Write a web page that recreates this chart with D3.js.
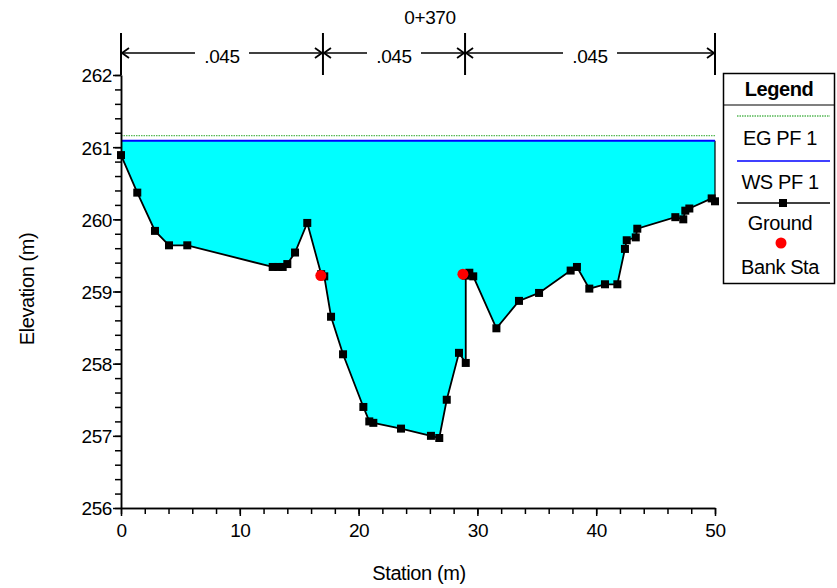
<!DOCTYPE html>
<html>
<head>
<meta charset="utf-8">
<script src="https://cdn.jsdelivr.net/npm/d3@7"></script>
<style>
  body { margin: 0; background: #fff; }
  svg text { font-family: "Liberation Sans", Arial, sans-serif; font-size: 19px; letter-spacing: -0.4px; fill: #000; }
</style>
</head>
<body>
<svg id="chart" width="837" height="588"></svg>
<script>
// cross section 0+370
const title = '0+370';
const groundSta = [0, 1.37, 2.86, 4.04, 5.58, 12.77, 13.24, 13.61, 14.0, 14.65, 15.68, 16.85, 17.11, 17.68, 18.69,
  20.40, 20.90, 21.24, 23.57, 26.09, 26.79, 27.42, 28.45, 29.02, 29.02, 29.32, 29.65, 31.6, 33.5, 35.19,
  37.85, 38.38, 39.42, 40.74, 41.78, 42.42, 42.57, 43.33, 43.46, 46.66, 47.33, 47.50, 47.84, 49.72, 50];
const groundElev = [260.89, 260.37, 259.84, 259.64, 259.64, 259.34, 259.34, 259.34, 259.38, 259.54, 259.95, 259.24, 259.21, 258.65, 258.13,
  257.40, 257.20, 257.18, 257.10, 257.00, 256.97, 257.50, 258.15, 258.01, 259.22, 259.26, 259.21, 258.49, 258.87, 258.98,
  259.29, 259.34, 259.04, 259.10, 259.10, 259.59, 259.71, 259.75, 259.87, 260.03, 260.00, 260.12, 260.15, 260.29, 260.25];
const bankSta = [16.82, 28.78];
const bankElev = [259.22, 259.24];
const wsElev = 261.09;
const egElev = 261.16;
const nSta = [0, 17.0, 28.96, 50];
const nValues = ['.045', '.045', '.045'];
const xTicks = [0, 10, 20, 30, 40, 50];
const yTicks = [256, 257, 258, 259, 260, 261, 262];
const legendItems = ['EG PF 1', 'WS PF 1', 'Ground', 'Bank Sta'];

const svg = d3.select('#chart');
const x = d3.scaleLinear().domain([0, 50]).range([121, 715]);
const y = d3.scaleLinear().domain([256, 262]).range([508, 75]);

const ground = groundSta.map((s, i) => ({ s: s, e: groundElev[i] }));

// water fill
svg.append('path')
  .datum(ground)
  .attr('fill', '#00ffff')
  .attr('d', d3.area().x(d => x(d.s)).y0(d => y(d.e)).y1(y(wsElev)));

// right edge of the water
svg.append('line')
  .attr('x1', x(50)).attr('x2', x(50))
  .attr('y1', y(wsElev)).attr('y2', y(groundElev[groundElev.length - 1]))
  .attr('stroke', '#000').attr('stroke-width', 1.2);

// EG and WS
svg.append('line')
  .attr('x1', x(0)).attr('x2', x(50)).attr('y1', y(egElev)).attr('y2', y(egElev))
  .attr('stroke', '#55b855').attr('stroke-width', 1.3).attr('stroke-dasharray', '1.5,1');
svg.append('line')
  .attr('x1', x(0)).attr('x2', x(50)).attr('y1', y(wsElev)).attr('y2', y(wsElev))
  .attr('stroke', '#0000ff').attr('stroke-width', 2);

// ground
svg.append('path')
  .datum(ground)
  .attr('fill', 'none')
  .attr('stroke', '#000')
  .attr('stroke-width', 1.8)
  .attr('d', d3.line().x(d => x(d.s)).y(d => y(d.e)));

svg.selectAll('.gpt')
  .data(ground)
  .enter().append('rect')
  .attr('class', 'gpt')
  .attr('x', d => x(d.s) - 4)
  .attr('y', d => y(d.e) - 4)
  .attr('width', 8).attr('height', 8)
  .attr('fill', '#000');

svg.selectAll('.bank')
  .data(bankSta)
  .enter().append('circle')
  .attr('cx', d => x(d))
  .attr('cy', (d, i) => y(bankElev[i]))
  .attr('r', 5.5)
  .attr('fill', '#ff0000');

// axes
const xAxis = svg.append('g').attr('transform', `translate(0,${y(256)})`)
  .call(d3.axisBottom(x).tickValues(xTicks).tickSize(8).tickSizeOuter(0).tickFormat(d3.format('d')));
svg.append('g').attr('transform', `translate(0,${y(256)})`)
  .call(d3.axisBottom(x).tickValues(d3.range(0, 51, 2)).tickSize(6).tickSizeOuter(0).tickFormat(''));
const yAxis = svg.append('g').attr('transform', `translate(${x(0)},0)`)
  .call(d3.axisLeft(y).tickValues(yTicks).tickSize(8).tickSizeOuter(0).tickFormat(d3.format('d')));
svg.append('g').attr('transform', `translate(${x(0)},0)`)
  .call(d3.axisLeft(y).tickValues(d3.range(256, 262.01, 0.2)).tickSize(6).tickSizeOuter(0).tickFormat(''));

svg.selectAll('.domain, .tick line').attr('stroke', '#000').attr('stroke-width', 1.5);
xAxis.selectAll('text').attr('y', 29).attr('dy', 0);
yAxis.selectAll('text').attr('x', -9).attr('dy', '0.36em');

// axis titles
svg.append('text').attr('x', 419).attr('y', 580).attr('text-anchor', 'middle')
  .style('font-size', '20px').text('Station (m)');
svg.append('text').attr('transform', `translate(34,289) rotate(-90)`)
  .attr('text-anchor', 'middle').style('font-size', '20px').text('Elevation  (m)');

// title
svg.append('text').attr('x', 430).attr('y', 24).attr('text-anchor', 'middle').text(title);

// manning's n regions
const nTop = 33, nBot = 75, nArrowY = 53;
svg.selectAll('.nline')
  .data(nSta)
  .enter().append('line')
  .attr('x1', d => x(d)).attr('x2', d => x(d))
  .attr('y1', nTop).attr('y2', nBot)
  .attr('stroke', '#000').attr('stroke-width', 2);

nValues.forEach((v, i) => {
  const x0 = x(nSta[i]), x1 = x(nSta[i + 1]);
  const xm = (x0 + x1) / 2;
  const gap = 27;
  svg.append('line').attr('x1', x0 + 1).attr('x2', xm - gap).attr('y1', nArrowY).attr('y2', nArrowY)
    .attr('stroke', '#000').attr('stroke-width', 1.5);
  svg.append('line').attr('x1', xm + gap).attr('x2', x1 - 1).attr('y1', nArrowY).attr('y2', nArrowY)
    .attr('stroke', '#000').attr('stroke-width', 1.5);
  svg.append('path').attr('d', `M${x0 + 8},${nArrowY - 5}L${x0 + 1},${nArrowY}L${x0 + 8},${nArrowY + 5}`)
    .attr('fill', 'none').attr('stroke', '#000').attr('stroke-width', 1.8);
  svg.append('path').attr('d', `M${x1 - 8},${nArrowY - 5}L${x1 - 1},${nArrowY}L${x1 - 8},${nArrowY + 5}`)
    .attr('fill', 'none').attr('stroke', '#000').attr('stroke-width', 1.8);
  svg.append('text').attr('x', xm).attr('y', nArrowY + 10).attr('text-anchor', 'middle').text(v);
});

// legend
const lg = svg.append('g');
lg.append('rect').attr('x', 723.5).attr('y', 73.5).attr('width', 111).attr('height', 210)
  .attr('fill', '#fff').attr('stroke', '#000').attr('stroke-width', 1.5);
lg.append('line').attr('x1', 723.5).attr('x2', 834.5).attr('y1', 105).attr('y2', 105)
  .attr('stroke', '#000').attr('stroke-width', 1.2);
lg.append('text').attr('x', 779).attr('y', 96).attr('text-anchor', 'middle')
  .style('font-weight', 'bold').style('font-size', '20px').text('Legend');
lg.append('line').attr('x1', 737).attr('x2', 830).attr('y1', 116).attr('y2', 116)
  .attr('stroke', '#55b855').attr('stroke-width', 1.3).attr('stroke-dasharray', '1.5,1');
lg.append('line').attr('x1', 737).attr('x2', 830).attr('y1', 161).attr('y2', 161)
  .attr('stroke', '#0000ff').attr('stroke-width', 1.5);
lg.append('line').attr('x1', 737).attr('x2', 830).attr('y1', 203).attr('y2', 203)
  .attr('stroke', '#000').attr('stroke-width', 1.5);
lg.append('rect').attr('x', 779).attr('y', 199).attr('width', 8).attr('height', 8).attr('fill', '#000');
lg.append('circle').attr('cx', 781).attr('cy', 243).attr('r', 5.5).attr('fill', '#ff0000');
const legendY = [145, 189, 230, 274];
legendItems.forEach((t, i) => {
  lg.append('text').attr('x', 780).attr('y', legendY[i]).attr('text-anchor', 'middle')
    .style('font-size', '20px').text(t);
});
</script>
</body>
</html>
